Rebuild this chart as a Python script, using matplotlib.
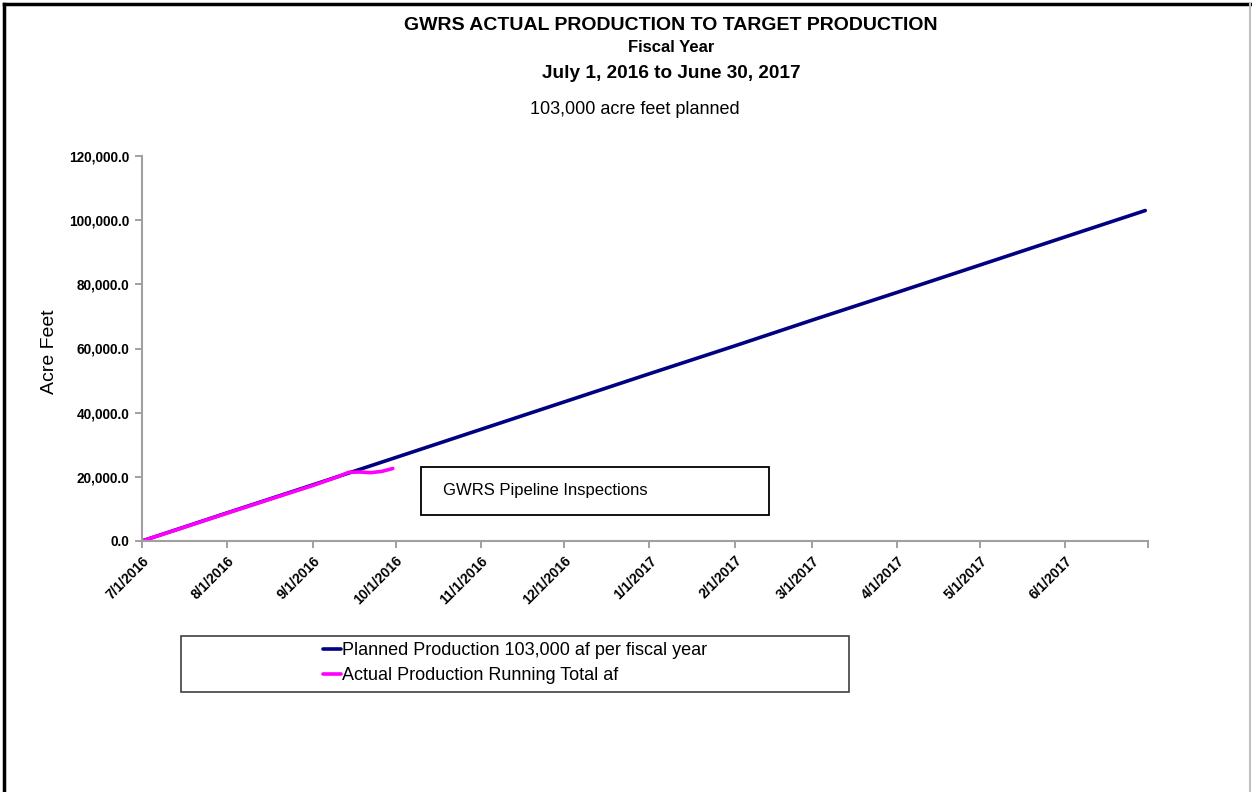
import matplotlib.pyplot as plt
import pandas as pd
from matplotlib.patches import Rectangle
from matplotlib.lines import Line2D

arial = ['Liberation Sans', 'DejaVu Sans']

# planned running total, read at the start of each month
plan_dates = ["2016-07-01", "2016-08-01", "2016-09-01", "2016-10-01", "2016-11-01",
              "2016-12-01", "2017-01-01", "2017-02-01", "2017-03-01", "2017-04-01",
              "2017-05-01", "2017-06-01", "2017-06-30"]
plan_af = [0, 8800, 17500, 26000, 34800, 43300, 52100, 60800, 68800,
           77500, 86000, 94800, 103000]

# actual running total
act_dates = ["2016-07-01", "2016-07-15", "2016-08-01", "2016-08-15", "2016-09-01",
             "2016-09-10", "2016-09-14", "2016-09-18", "2016-09-22", "2016-09-26",
             "2016-09-30"]
act_af = [0, 3900, 8700, 12600, 17300, 20000, 21400, 21500, 21300, 21700, 22600]

tick_dates = pd.date_range("2016-07-01", "2017-06-01", freq="MS")
tick_labels = [f"{d.month}/1/{d.year}" for d in tick_dates]

fig = plt.figure(figsize=(12.52, 7.92), dpi=100)
ax = fig.add_axes([142/1252, 1 - 541/792, 1006/1252, 385/792])

ax.plot(pd.to_datetime(plan_dates), plan_af, color="#000080", linewidth=2.6,
        label="Planned Production 103,000 af per fiscal year", solid_capstyle="round")
ax.plot(pd.to_datetime(act_dates), act_af, color="#FF00FF", linewidth=2.6,
        label="Actual Production Running Total af", solid_capstyle="round")

ax.set_xlim(pd.Timestamp("2016-07-01"), pd.Timestamp("2017-07-01"))
ax.set_ylim(0, 120000)
ax.set_yticks(range(0, 120001, 20000))
ax.set_yticklabels([f"{v:,.1f}" for v in range(0, 120001, 20000)],
                   fontweight="bold", fontsize=9.8, family=arial)
ax.set_xticks(tick_dates)
ax.set_xticklabels(tick_labels, rotation=45, ha="right", va="top", rotation_mode="anchor",
                   fontweight="bold", fontsize=10, family=arial)
ax.set_xticks([pd.Timestamp("2017-07-01")], minor=True)
ax.tick_params(axis="x", which="both", length=5, color="#909090", width=1.2, pad=4)
ax.tick_params(axis="y", length=5, color="#909090", width=1.2, pad=4)

for s in ["top", "right"]:
    ax.spines[s].set_visible(False)
for s in ["left", "bottom"]:
    ax.spines[s].set_color("#A0A0A0")
    ax.spines[s].set_linewidth(1.5)

fig.text(50/1252, 1 - 352/792, "Acre Feet", rotation=90, ha="center", va="center",
         fontsize=14, family=arial)

# titles
fig.text(671/1252, 1 - 25/792, "GWRS ACTUAL PRODUCTION TO TARGET PRODUCTION",
         ha="center", va="center", fontsize=14, fontweight="bold", family=arial)
fig.text(671/1252, 1 - 48/792, "Fiscal Year", ha="center", va="center",
         fontsize=12, fontweight="bold", family=arial)
fig.text(671/1252, 1 - 74/792, "July 1, 2016 to June 30, 2017", ha="center", va="center",
         fontsize=13.7, fontweight="bold", family=arial)
fig.text(635/1252, 1 - 110/792, "103,000 acre feet planned", ha="center", va="center",
         fontsize=13, family=arial)

# annotation box
fig.patches.append(Rectangle((421/1252, 1 - 515/792), 348/1252, 48/792,
                             transform=fig.transFigure, fill=False, edgecolor="black",
                             linewidth=1.3))
fig.text(443/1252, 1 - 491/792, "GWRS Pipeline Inspections", ha="left", va="center",
         fontsize=12, family=arial)

# legend box
fig.patches.append(Rectangle((181/1252, 1 - 692/792), 668/1252, 56/792,
                             transform=fig.transFigure, fill=False, edgecolor="#404040",
                             linewidth=1.2))
fig.legend(loc="center", bbox_to_anchor=(515/1252, 1 - 663/792), frameon=False,
           handlelength=1.0, handletextpad=0.1, labelspacing=0.45,
           prop={"family": arial, "size": 13})

# outer border
fig.add_artist(Line2D([4/1252, 4/1252], [0, 1 - 4/792], color="black", linewidth=2.5,
                      transform=fig.transFigure))
fig.add_artist(Line2D([4/1252, 1250/1252], [1 - 4/792, 1 - 4/792], color="black",
                      linewidth=2.5, transform=fig.transFigure))
fig.add_artist(Line2D([1250/1252, 1250/1252], [0, 1 - 4/792], color="#C0C0C0",
                      linewidth=1.5, transform=fig.transFigure))

fig.savefig("out.png", dpi=100)
